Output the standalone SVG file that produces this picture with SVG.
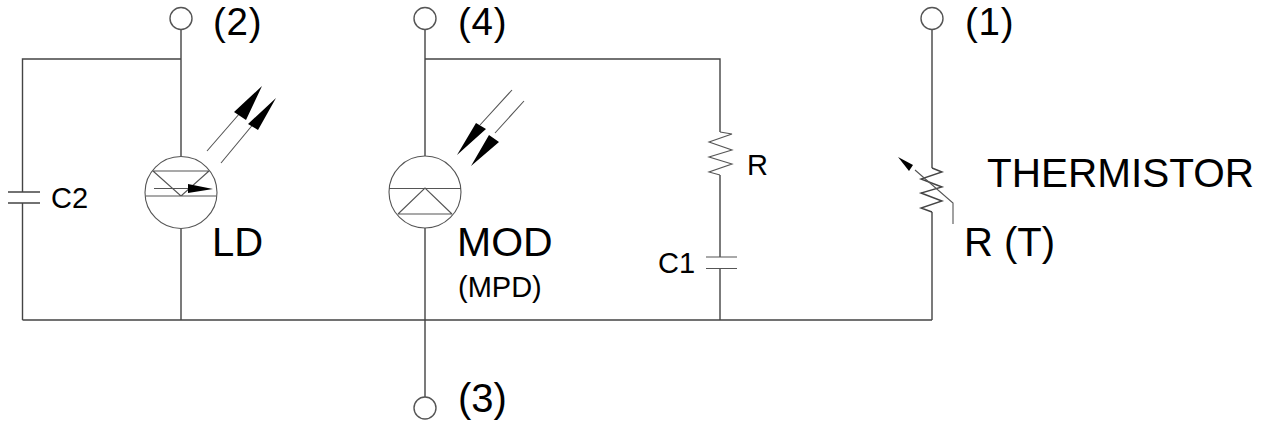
<svg xmlns="http://www.w3.org/2000/svg" width="1262" height="423" viewBox="0 0 1262 423">
<style>
.w{fill:none;stroke:#444;stroke-width:1.4}
.n{fill:none;stroke:#555;stroke-width:1.1}
.t{fill:#fff;stroke:#555;stroke-width:1.4}
.h{fill:#000;stroke:none}
text{font-family:"Liberation Sans",Arial,sans-serif;fill:#000}
.b{font-size:40px}
.p{font-size:38.500px;letter-spacing:.8px}
.s{font-size:29px}
</style>
<rect width="1262" height="423" fill="#fff"/>
<g id="connectors">
<path class="w" d="M181 29V156M181 229V320M22.500 320H932M181 59H22.500V192M22.500 203V320"/>
<path class="w" d="M425 29V156M425 228V397M425 59H720V132M720 175V257M720 268V320"/>
<path class="w" d="M932 29V168M932 212V320"/>
</g>
<g id="terminal-2"><circle class="t" cx="181" cy="18.500" r="11"/><text class="p" x="213" y="35">(2)</text></g>
<g id="terminal-4"><circle class="t" cx="425" cy="18.500" r="11"/><text class="p" x="458" y="35">(4)</text></g>
<g id="terminal-1"><circle class="t" cx="932" cy="18.500" r="11"/><text class="p" x="965" y="35">(1)</text></g>
<g id="terminal-3"><circle class="t" cx="425" cy="408" r="11"/><text class="b" x="458" y="412">(3)</text></g>
<g id="c2"><path class="w" d="M8 192H40M8 203H40"/><text class="s" x="51" y="208">C2</text></g>
<g id="ld">
<circle class="n" cx="181" cy="192.500" r="36"/>
<path class="n" d="M153 171H209M146 196H216M153 171L181 196L209 171M154 188.500H190M207 151L240 113M221 163L255 122"/>
<path class="h" d="M188 184L213 189L188 193ZM262 86L234 112L246 120ZM276 98L248 124L258 130Z"/>
<text class="b" x="212" y="256">LD</text>
</g>
<g id="mod">
<circle class="n" cx="425" cy="192" r="36"/>
<path class="n" d="M389 188.500H461M398 214H452M398 214L425 188L452 214M512 90L480 125M524 101L495 133"/>
<path class="h" d="M457 155L476 123L486 129ZM471 166L489 135L499 142Z"/>
<text class="b" x="457" y="256" style="font-size:41px">MOD</text>
<text class="s" x="458" y="297">(MPD)</text>
</g>
<g id="r">
<path class="n" d="M720 132L732 134L709 142L732 150L709 157L732 164L709 172L720 175"/>
<text class="s" x="747" y="175">R</text>
</g>
<g id="c1">
<path class="n" d="M706 257H737M706 268.500H737"/>
<text class="s" x="658" y="273">C1</text>
</g>
<g id="thermistor">
<path class="w" d="M932 168L942 172L921 179L942 187L921 193L942 201L921 208L932 212"/>
<path class="n" d="M953 224V203L915 170"/>
<path class="h" d="M898 157L913 165L909 171Z"/>
<text class="b" x="987" y="187" style="font-size:40.500px">THERMISTOR</text>
<text class="b" x="964" y="256">R (T)</text>
</g>
</svg>
